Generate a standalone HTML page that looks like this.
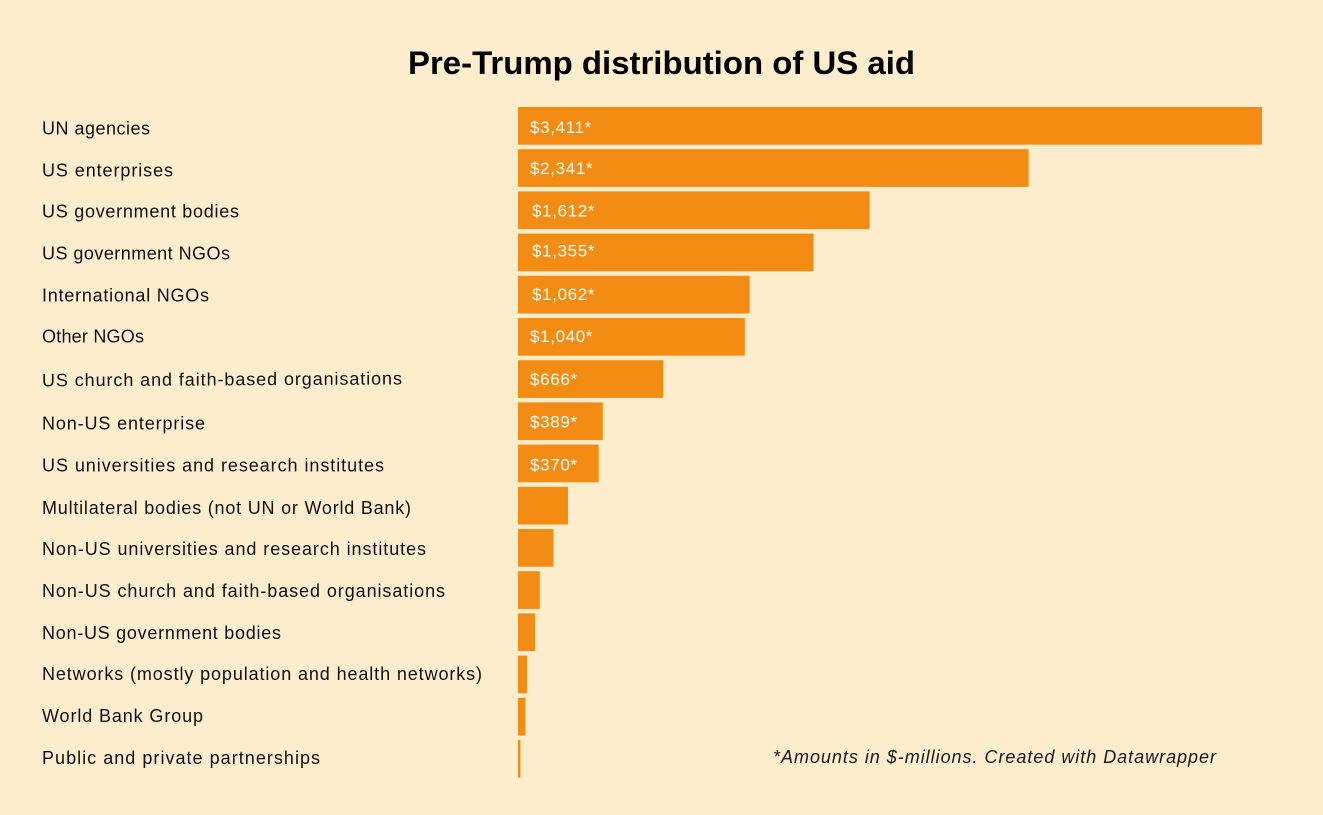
<!DOCTYPE html>
<html lang="en">
<head>
<meta charset="utf-8">
<title>Pre-Trump distribution of US aid</title>
<style>
html,body{margin:0;padding:0;background:#fdedcd;width:1323px;height:815px;overflow:hidden}
svg{display:block}
text{font-family:"Liberation Sans",sans-serif}
.cat{font-size:18px;fill:#111}
#labels text:nth-child(3),#labels text:nth-child(4),#labels text:nth-child(5){transform:translate(0,-1px)}
#labels text:nth-child(6){transform:translate(0,-2px)}
#labels text:nth-child(8),#labels text:nth-child(9),#labels text:nth-child(11),#labels text:nth-child(12),#labels text:nth-child(13){transform:translate(0,1px)}
#labels text:nth-child(10){transform:translate(0,2px)}
.val{font-size:17px;fill:#fff;letter-spacing:.65px}
.v1{transform:translate(0,-1px)}
.v2{transform:translate(2px,-1px)}
.v3{transform:translate(2px,-3px)}
.v4{transform:translate(2px,-2px)}
.v5{transform:translate(0,-2px)}
.v6{transform:translate(0,-1px)}
.v7{transform:translate(0,-1px)}
</style>
</head>
<body>
<svg id="chart" xmlns="http://www.w3.org/2000/svg" width="1323" height="815" viewBox="0 0 1323 815">
<rect x="0" y="0" width="1323" height="815" fill="#fdedcd"/>
<text x="661.5" y="74" text-anchor="middle" font-size="32" font-weight="700" fill="#000" textLength="507" lengthAdjust="spacingAndGlyphs">Pre-Trump distribution of US aid</text>
<g id="labels">
<text class="cat" textLength="108">UN agencies</text>
<text class="cat" textLength="131">US enterprises</text>
<text class="cat" textLength="197">US government bodies</text>
<text class="cat" textLength="188">US government NGOs</text>
<text class="cat" textLength="167">International NGOs</text>
<text class="cat" textLength="102">Other NGOs</text>
<text class="cat" textLength="360">US church and faith-based organisations</text>
<text class="cat" textLength="163">Non-US enterprise</text>
<text class="cat" textLength="342">US universities and research institutes</text>
<text class="cat" textLength="369">Multilateral bodies (not UN or World Bank)</text>
<text class="cat" textLength="384">Non-US universities and research institutes</text>
<text class="cat" textLength="403">Non-US church and faith-based organisations</text>
<text class="cat" textLength="239">Non-US government bodies</text>
<text class="cat" textLength="440">Networks (mostly population and health networks)</text>
<text class="cat" textLength="161">World Bank Group</text>
<text class="cat" textLength="278">Public and private partnerships</text>
</g>
<text x="773" y="763" font-size="18" font-style="italic" fill="#1a1a1a" textLength="443" lengthAdjust="spacing">*Amounts in $-millions. Created with Datawrapper</text>
<g id="bars"></g>
</svg>
<script>
var categories = ["UN agencies","US enterprises","US government bodies","US government NGOs","International NGOs","Other NGOs","US church and faith-based organisations","Non-US enterprise","US universities and research institutes","Multilateral bodies (not UN or World Bank)","Non-US universities and research institutes","Non-US church and faith-based organisations","Non-US government bodies","Networks (mostly population and health networks)","World Bank Group","Public and private partnerships"];
var values = [3411,2341,1612,1355,1062,1040,666,389,370,229,163,100,78,41,34,11];
var valueLabels = ["$3,411*","$2,341*","$1,612*","$1,355*","$1,062*","$1,040*","$666*","$389*","$370*","","","","","","",""];

var NS = "http://www.w3.org/2000/svg";
var group = document.getElementById("bars");
var labelEls = document.querySelectorAll("#labels text");
function xScale(v){ return v * 744 / 3411; }
function yScale(i){ return 107 + i * 42.2; }
function labelY(i){ return 134.5 + i * 41.97; }
var barHeight = 37.7;

categories.forEach(function(name, i){
  var y = yScale(i);

  var label = labelEls[i];
  label.textContent = name;
  label.setAttribute("x", 42);
  label.setAttribute("y", labelY(i));
  if (i === 6) label.setAttribute("transform", "rotate(-0.3 42 " + labelY(i) + ")");

  var bar = document.createElementNS(NS, "rect");
  
  
  bar.setAttribute("x", 518);
  bar.setAttribute("y", y);
  bar.setAttribute("width", xScale(values[i]));
  bar.setAttribute("height", barHeight);
  bar.setAttribute("fill", "#f38c12");
  group.appendChild(bar);

  if (valueLabels[i]) {
    var val = document.createElementNS(NS, "text");
    
    
    val.setAttribute("class", "val v" + i);
    val.setAttribute("x", 530);
    val.setAttribute("y", y + 26);
    val.textContent = valueLabels[i];
    group.appendChild(val);
  }
});
</script>
</body>
</html>
